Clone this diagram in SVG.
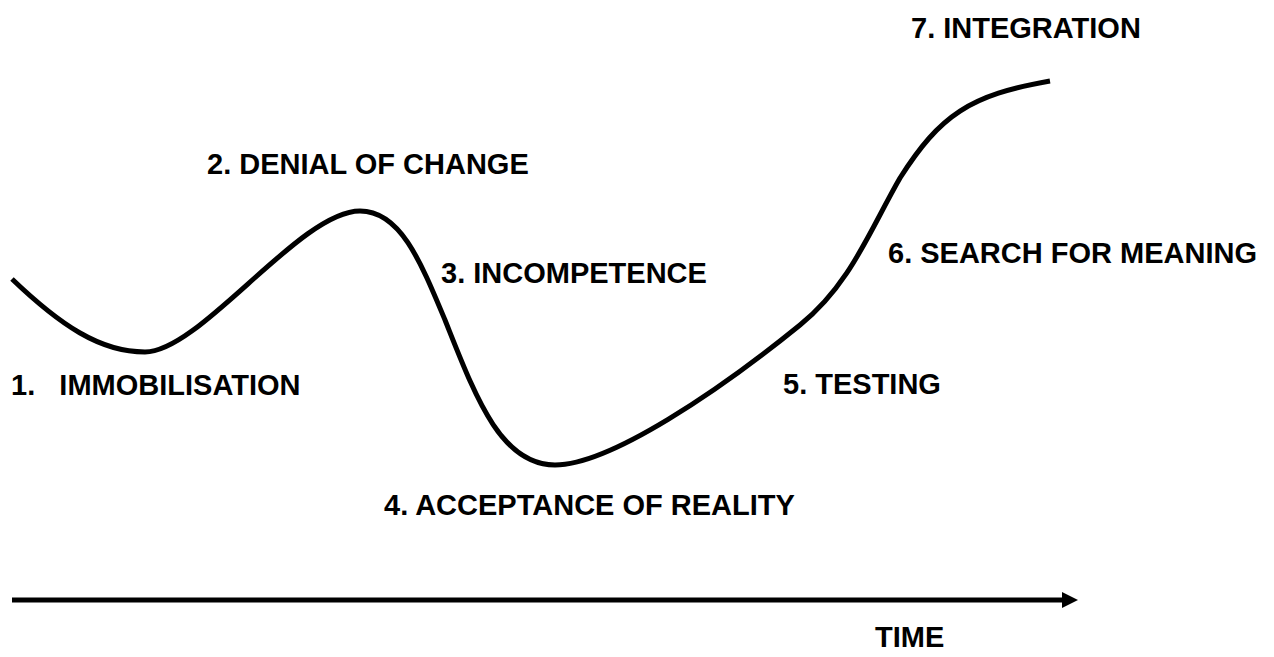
<svg xmlns="http://www.w3.org/2000/svg" width="1274" height="657" viewBox="0 0 1274 657">
<style>
.lbl{font-family:"Liberation Sans",Arial,sans-serif;font-weight:bold;font-size:29px;fill:#000}
.curve{fill:none;stroke:#000;stroke-width:5;stroke-linecap:butt}
</style>
<rect width="1274" height="657" fill="#fff"/>
<g id="connectors">
<path id="curve" class="curve" d="M12,279 C60,325 100,352 145,352 C200,352 300,211 360,211 C400,211 420,260 445,320 C475,395 500,465 555,465 C610,465 720,390 800,325 C850,285 870,230 900,178 C940,115 970,95 1050,81"/>
<line id="time-axis" x1="12" y1="600" x2="1064" y2="600" stroke="#000" stroke-width="5"/>
<polygon points="1062,592 1078,600 1062,608" fill="#000"/>
</g>
<g id="n1"><text class="lbl" x="11" y="395" xml:space="preserve">1.   IMMOBILISATION</text></g>
<g id="n2"><text class="lbl" x="207" y="174">2. DENIAL OF CHANGE</text></g>
<g id="n3"><text class="lbl" x="441" y="283">3. INCOMPETENCE</text></g>
<g id="n4"><text class="lbl" x="384" y="515">4. ACCEPTANCE OF REALITY</text></g>
<g id="n5"><text class="lbl" x="783" y="394">5. TESTING</text></g>
<g id="n6"><text class="lbl" x="888" y="263">6. SEARCH FOR MEANING</text></g>
<g id="n7"><text class="lbl" x="911" y="38">7. INTEGRATION</text></g>
<g id="time"><text class="lbl" x="875" y="647">TIME</text></g>
</svg>
